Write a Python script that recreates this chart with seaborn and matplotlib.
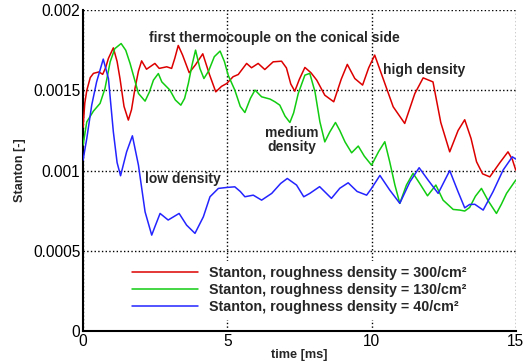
import numpy as np
import pandas as pd
import seaborn as sns
import matplotlib.pyplot as plt
from matplotlib.ticker import MultipleLocator, FixedLocator, FixedFormatter

# -----------------------------
# Data (Stanton number, units of 1e-3)
# -----------------------------
t_high = [0, 0.06, 0.13, 0.25, 0.36, 0.55, 0.68, 0.78, 0.88, 1.05, 1.18, 1.28, 1.42, 1.57, 1.68,
          1.80, 1.92, 2.03, 2.2, 2.49, 2.64, 2.9, 3.07, 3.18, 3.3, 3.45, 3.68, 3.9, 4.15, 4.38,
          4.6, 4.8, 4.98, 5.2, 5.38, 5.67, 5.84, 6.07, 6.3, 6.59, 6.88, 7.05, 7.2, 7.34, 7.5,
          7.69, 7.9, 8.1, 8.38, 8.69, 8.95, 9.16, 9.42, 9.69, 9.9, 10.11, 10.4, 10.75, 11.15,
          11.5, 11.79, 12.13, 12.4, 12.71, 13.0, 13.23, 13.45, 13.64, 13.85, 14.1, 14.45, 14.73,
          14.88, 15.0]
st_high = [1.27, 1.42, 1.50, 1.58, 1.606, 1.615, 1.60, 1.64, 1.70, 1.765, 1.68, 1.574, 1.40, 1.315,
           1.38, 1.512, 1.62, 1.684, 1.632, 1.668, 1.637, 1.647, 1.637, 1.70, 1.78, 1.72, 1.61,
           1.66, 1.728, 1.60, 1.491, 1.525, 1.543, 1.585, 1.599, 1.668, 1.641, 1.668, 1.630,
           1.678, 1.682, 1.64, 1.54, 1.495, 1.57, 1.643, 1.61, 1.564, 1.470, 1.429, 1.57, 1.662,
           1.574, 1.533, 1.64, 1.72, 1.574, 1.398, 1.294, 1.48, 1.578, 1.553, 1.30, 1.117, 1.25,
           1.317, 1.20, 1.055, 0.98, 0.961, 1.05, 1.117, 1.07, 1.003]

t_med = [0, 0.13, 0.36, 0.59, 0.76, 0.94, 1.1, 1.32, 1.48, 1.63, 1.92, 2.15, 2.3, 2.44, 2.61, 2.73,
         3.01, 3.2, 3.39, 3.52, 3.65, 3.78, 3.90, 4.05, 4.19, 4.35, 4.55, 4.75, 4.9, 5.03, 5.26,
         5.45, 5.61, 5.8, 5.96, 6.19, 6.48, 6.65, 6.82, 7.0, 7.17, 7.3, 7.46, 7.69, 7.86, 8.04,
         8.21, 8.38, 8.55, 8.75, 8.9, 9.08, 9.31, 9.54, 9.75, 10.0, 10.25, 10.46, 10.63, 10.81,
         10.98, 11.21, 11.44, 11.67, 11.94, 12.23, 12.48, 12.83, 13.06, 13.23, 13.4, 13.6, 13.81,
         14.05, 14.33, 14.5, 14.68, 15.0]
st_med = [1.159, 1.304, 1.371, 1.419, 1.512, 1.678, 1.76, 1.792, 1.75, 1.668, 1.481, 1.433, 1.49,
          1.564, 1.605, 1.553, 1.502, 1.44, 1.408, 1.45, 1.543, 1.66, 1.751, 1.637, 1.574, 1.62,
          1.71, 1.745, 1.68, 1.595, 1.502, 1.40, 1.362, 1.45, 1.502, 1.460, 1.446, 1.429, 1.408,
          1.34, 1.300, 1.36, 1.481, 1.595, 1.606, 1.491, 1.304, 1.179, 1.24, 1.300, 1.25, 1.179,
          1.111, 1.153, 1.09, 1.034, 1.12, 1.18, 1.055, 0.910, 0.796, 0.910, 0.983, 0.920, 0.843,
          0.910, 0.816, 0.758, 0.754, 0.748, 0.770, 0.84, 0.889, 0.81, 0.733, 0.79, 0.858, 0.941]

t_low = [0, 0.13, 0.3, 0.47, 0.70, 0.88, 1.05, 1.18, 1.30, 1.51, 1.71, 1.92, 2.15, 2.38, 2.49, 2.67,
         2.95, 3.33, 3.59, 3.88, 4.17, 4.40, 4.69, 4.98, 5.26, 5.45, 5.61, 5.9, 6.19, 6.54, 6.85,
         7.08, 7.40, 7.65, 7.86, 8.2, 8.61, 8.9, 9.19, 9.5, 9.83, 10.0, 10.29, 10.63, 10.98,
         11.33, 11.65, 11.96, 12.31, 12.71, 13.0, 13.23, 13.4, 13.58, 13.87, 14.21, 14.56, 14.88,
         15.0]
st_low = [1.065, 1.201, 1.408, 1.553, 1.695, 1.574, 1.242, 1.05, 0.968, 1.117, 1.217, 1.034, 0.743,
          0.598, 0.65, 0.733, 0.692, 0.733, 0.660, 0.609, 0.712, 0.837, 0.889, 0.895, 0.899, 0.87,
          0.837, 0.847, 0.816, 0.858, 0.92, 0.951, 0.910, 0.837, 0.858, 0.90, 0.827, 0.89, 0.924,
          0.87, 0.847, 0.889, 0.970, 0.879, 0.796, 0.930, 1.018, 0.941, 0.858, 1.000, 0.868, 0.768,
          0.789, 0.790, 0.754, 0.868, 1.003, 1.086, 1.072]

labels = ["Stanton, roughness density = 300/cm\u00b2",
          "Stanton, roughness density = 130/cm\u00b2",
          "Stanton, roughness density = 40/cm\u00b2"]
colors = ["#dd0000", "#11cc11", "#2424ff"]

y_ticks = [0, 0.0005, 0.001, 0.0015, 0.002]
y_ticklabels = ["0", "0.0005", "0.001", "0.0015", "0.002"]
x_ticks = [0, 5, 10, 15]

# -----------------------------
# Style
# -----------------------------
sns.set_style("white")
plt.rcParams['font.family'] = ['Liberation Sans', 'DejaVu Sans']

fig, ax = plt.subplots(figsize=(5.29, 3.63), dpi=100)
fig.subplots_adjust(left=0.157, right=0.975, bottom=0.088, top=0.972)

series = [(t_high, st_high), (t_med, st_med), (t_low, st_low)]
for (t, st), lab, col in zip(series, labels, colors):
    sns.lineplot(x=t, y=np.array(st) * 1e-3, ax=ax, color=col, linewidth=1.1,
                 label=lab, sort=False, zorder=3)

ax.set_xlim(0, 15)
ax.set_ylim(0, 0.002)

# grid
ax.xaxis.set_major_locator(FixedLocator(x_ticks))
ax.xaxis.set_minor_locator(MultipleLocator(1))
ax.yaxis.set_major_locator(FixedLocator(y_ticks))
ax.yaxis.set_major_formatter(FixedFormatter(y_ticklabels))
ax.yaxis.set_minor_locator(MultipleLocator(0.0001))
ax.grid(True, which='major', linestyle=':', color='black', linewidth=1.0, zorder=0)

ax.tick_params(which='major', direction='in', length=9, width=1.0, labelsize=11.2,
               pad=2, colors='black')
ax.tick_params(which='minor', direction='in', length=5, width=1.0)
ax.tick_params(axis='x', pad=2)

for s in ['top', 'right']:
    ax.spines[s].set_visible(False)
for s in ['left', 'bottom']:
    ax.spines[s].set_color('black')
    ax.spines[s].set_linewidth(1.5)

ax.set_xlabel("time [ms]", fontsize=9.2, fontweight='bold', labelpad=0)
ax.set_ylabel("Stanton [-]", fontsize=9.2, fontweight='bold', labelpad=5)

# annotations
ann = dict(fontsize=10, fontweight='bold', ha='center', va='center', zorder=4)
ax.text(6.62, 0.001826, "first thermocouple on the conical side", **ann)
ax.text(11.83, 0.001626, "high density", **ann)
ax.text(7.23, 0.00119, "medium\ndensity", linespacing=1.0, **ann)
ax.text(3.45, 0.000947, "low density", **ann)

leg = ax.legend(loc='lower center', bbox_to_anchor=(0.5, 0.035), borderaxespad=0,
                frameon=True, facecolor='white', edgecolor='none', framealpha=1.0,
                fancybox=False, handlelength=4.6, handletextpad=0.8, labelspacing=0.2,
                prop={'weight': 'bold', 'size': 10.3})
leg.set_zorder(5)

plt.savefig("out.png", dpi=100)
plt.close()
